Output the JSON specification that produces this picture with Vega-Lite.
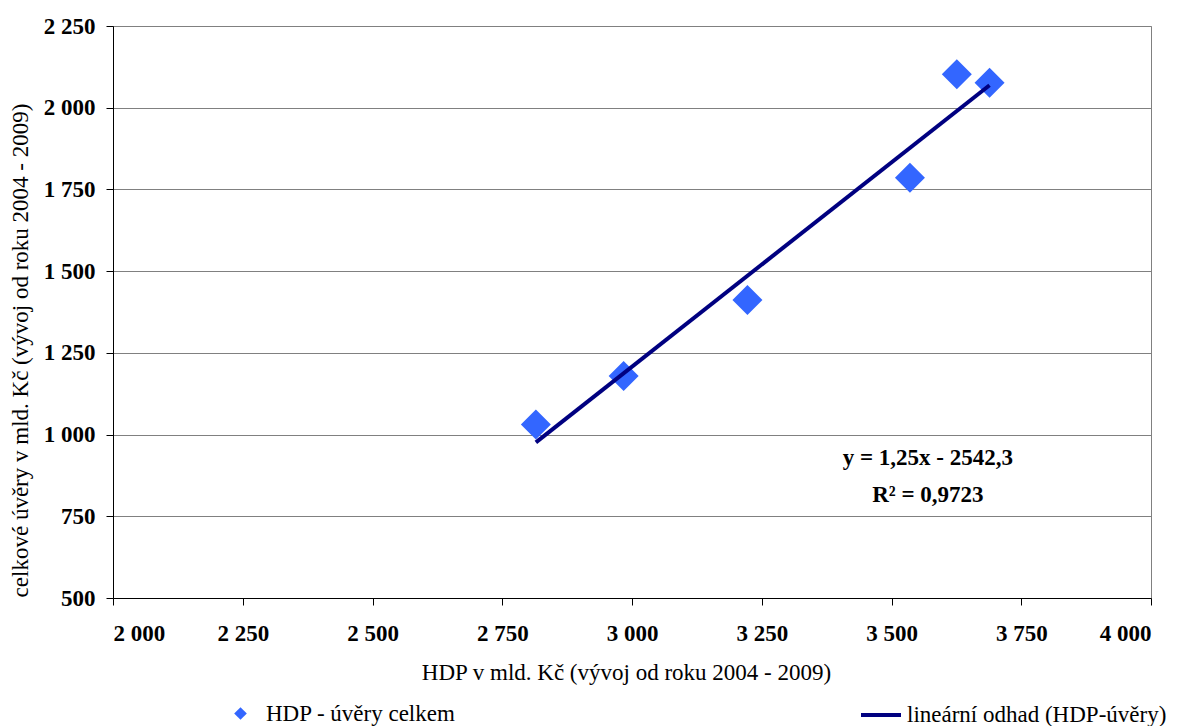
{
  "$schema": "https://vega.github.io/schema/vega-lite/v6.json",
  "width": 1038,
  "height": 572,
  "autosize": "none",
  "padding": {"left": 113, "top": 26, "right": 28, "bottom": 128},
  "background": "white",
  "config": {
    "font": "Liberation Serif",
    "view": {"stroke": "#808080", "strokeWidth": 1},
    "axis": {
      "labelFont": "Liberation Serif",
      "labelFontWeight": "bold",
      "labelFontSize": 23,
      "labelColor": "black",
      "tickSize": 7,
      "tickColor": "black",
      "tickWidth": 1,
      "domainColor": "black",
      "domainWidth": 1,
      "titleFont": "Liberation Serif",
      "titleFontSize": 23,
      "titleFontWeight": "normal",
      "titleColor": "black"
    },
    "legend": {
      "padding": 0,
      "labelFont": "Liberation Serif",
      "labelFontSize": 23,
      "labelColor": "black",
      "labelLimit": 500,
      "title": null
    }
  },
  "datasets": {
    "body": [
      {"rok": 2004, "hdp": 2814.8, "uvery": 1031, "serie": "HDP - úvěry celkem"},
      {"rok": 2005, "hdp": 2983.9, "uvery": 1179, "serie": "HDP - úvěry celkem"},
      {"rok": 2006, "hdp": 3222.4, "uvery": 1412, "serie": "HDP - úvěry celkem"},
      {"rok": 2007, "hdp": 3535.5, "uvery": 1786, "serie": "HDP - úvěry celkem"},
      {"rok": 2008, "hdp": 3688.9, "uvery": 2076, "serie": "HDP - úvěry celkem"},
      {"rok": 2009, "hdp": 3625.9, "uvery": 2102, "serie": "HDP - úvěry celkem"}
    ],
    "odhad": [
      {"hdp": 2814.8, "uvery": 976.2, "serie": "lineární odhad (HDP-úvěry)"},
      {"hdp": 3688.9, "uvery": 2068.8, "serie": "lineární odhad (HDP-úvěry)"}
    ],
    "rovnice": [
      {"hdp": 3570, "uvery": 907, "popis": "y = 1,25x - 2542,3"},
      {"hdp": 3570, "uvery": 795, "popis": "R² = 0,9723"}
    ]
  },
  "encoding": {
    "x": {
      "field": "hdp",
      "type": "quantitative",
      "scale": {"domain": [2000, 4000], "nice": false, "zero": false},
      "axis": {
        "title": "HDP v mld. Kč (vývoj od roku 2004 - 2009)",
        "values": [2000, 2250, 2500, 2750, 3000, 3250, 3500, 3750, 4000],
        "labelExpr": "replace(format(datum.value, ',d'), ',', ' ')",
        "labelPadding": 17,
        "grid": false,
        "titleX": 513,
        "titleY": 63,
        "titleBaseline": "top"
      }
    },
    "y": {
      "field": "uvery",
      "type": "quantitative",
      "scale": {"domain": [500, 2250], "nice": false, "zero": false},
      "axis": {
        "title": "celkové úvěry v mld. Kč (vývoj od roku 2004 - 2009)",
        "values": [500, 750, 1000, 1250, 1500, 1750, 2000, 2250],
        "labelExpr": "replace(format(datum.value, ',d'), ',', ' ')",
        "labelPadding": 11,
        "grid": true,
        "gridColor": "#808080",
        "gridWidth": 1,
        "titleX": -81,
        "titleY": 324,
        "titleAngle": -90,
        "titleBaseline": "bottom"
      }
    }
  },
  "layer": [
    {
      "data": {"name": "body"},
      "mark": {"type": "point", "filled": true, "size": 900, "color": "#3366FF", "opacity": 1},
      "encoding": {
        "shape": {
          "field": "serie",
          "type": "nominal",
          "scale": {"range": ["diamond"]},
          "legend": {
            "orient": "none",
            "legendX": 116,
            "legendY": 676,
            "symbolSize": 160,
            "symbolFillColor": "#3366FF",
            "symbolStrokeWidth": 0,
            "symbolOpacity": 1,
            "labelOffset": 14
          }
        }
      }
    },
    {
      "data": {"name": "odhad"},
      "mark": {"type": "line", "strokeWidth": 4, "strokeCap": "butt"},
      "encoding": {
        "color": {
          "field": "serie",
          "type": "nominal",
          "scale": {"range": ["#000080"]},
          "legend": {
            "orient": "none",
            "legendX": 746,
            "legendY": 667,
            "symbolType": "stroke",
            "symbolSize": 1600,
            "symbolStrokeWidth": 4,
            "labelOffset": 4
          }
        }
      }
    },
    {
      "data": {"name": "rovnice"},
      "mark": {
        "type": "text",
        "font": "Liberation Serif",
        "fontSize": 23,
        "fontWeight": "bold",
        "color": "black",
        "align": "center",
        "baseline": "alphabetic"
      },
      "encoding": {
        "text": {"field": "popis", "type": "nominal"}
      }
    }
  ]
}
